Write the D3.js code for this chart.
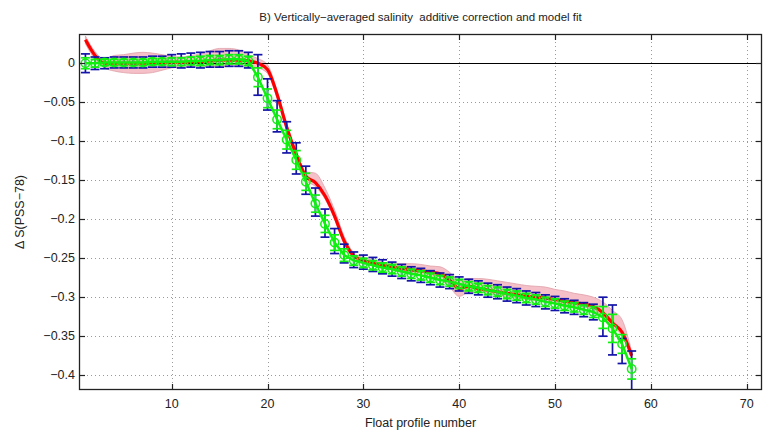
<!DOCTYPE html>
<html><head><meta charset="utf-8">
<script src="https://cdn.jsdelivr.net/npm/d3@7"></script>
<style>body{margin:0;background:#fff;} svg{display:block;} text{font-family:"Liberation Sans",Arial,sans-serif;}</style>
</head><body>
<svg id="c" width="779" height="434"></svg>
<script>
const profiles = d3.range(1, 59);
const dataValues = [0.000,0.000,0.001,0.001,0.001,0.001,0.001,0.002,0.002,0.002,
 0.002,0.003,0.003,0.004,0.004,0.005,0.005,0.003,-0.018,-0.045,
 -0.072,-0.098,-0.124,-0.152,-0.180,-0.206,-0.230,-0.246,-0.253,-0.256,
 -0.259,-0.262,-0.264,-0.267,-0.270,-0.272,-0.275,-0.278,-0.280,-0.283,
 -0.286,-0.288,-0.291,-0.293,-0.296,-0.298,-0.301,-0.303,-0.306,-0.308,
 -0.311,-0.313,-0.316,-0.319,-0.326,-0.340,-0.360,-0.392];
const blueValues = [0.000,0.000,0.000,0.001,0.001,0.001,0.001,0.002,0.002,0.003,
 0.003,0.004,0.004,0.005,0.005,0.006,0.006,0.004,-0.015,-0.040,
 -0.068,-0.095,-0.122,-0.150,-0.178,-0.205,-0.228,-0.244,-0.252,-0.255,
 -0.258,-0.261,-0.264,-0.267,-0.270,-0.272,-0.275,-0.278,-0.280,-0.283,
 -0.286,-0.288,-0.291,-0.293,-0.296,-0.298,-0.301,-0.303,-0.306,-0.308,
 -0.311,-0.313,-0.316,-0.319,-0.325,-0.342,-0.369,-0.394];
const blueErr = [0.012,0.008,0.007,0.007,0.007,0.007,0.007,0.007,0.007,0.008,
 0.009,0.009,0.010,0.010,0.010,0.010,0.010,0.010,0.026,0.020,
 0.020,0.020,0.020,0.018,0.018,0.018,0.016,0.012,0.010,0.009,
 0.009,0.009,0.009,0.009,0.009,0.009,0.009,0.009,0.009,0.009,
 0.009,0.009,0.009,0.009,0.009,0.009,0.009,0.009,0.009,0.009,
 0.009,0.009,0.009,0.010,0.025,0.032,0.016,0.025];
const dataErr = [0.007,0.005,0.004,0.004,0.004,0.004,0.004,0.004,0.004,0.005,
 0.005,0.005,0.006,0.006,0.006,0.006,0.006,0.006,0.012,0.012,
 0.012,0.012,0.012,0.011,0.011,0.011,0.010,0.008,0.006,0.006,
 0.006,0.006,0.006,0.006,0.006,0.006,0.006,0.006,0.006,0.006,
 0.006,0.006,0.006,0.006,0.006,0.006,0.006,0.006,0.006,0.006,
 0.006,0.006,0.006,0.007,0.014,0.018,0.012,0.013];
const fitValues = [0.030,0.010,0.000,0.000,0.000,0.000,0.000,0.000,0.001,0.001,
 0.001,0.002,0.002,0.003,0.004,0.004,0.004,0.003,0.000,-0.008,
 -0.040,-0.082,-0.117,-0.145,-0.153,-0.170,-0.196,-0.228,-0.247,-0.253,
 -0.256,-0.259,-0.261,-0.263,-0.265,-0.266,-0.268,-0.270,-0.278,-0.289,
 -0.286,-0.289,-0.291,-0.293,-0.295,-0.297,-0.299,-0.300,-0.301,-0.303,
 -0.305,-0.307,-0.309,-0.312,-0.320,-0.333,-0.345,-0.375];
const fitErrUp = [0.005,0.005,0.005,0.010,0.011,0.013,0.014,0.013,0.010,0.008,
 0.007,0.008,0.010,0.013,0.015,0.015,0.013,0.008,0.006,0.006,
 0.005,0.005,0.005,0.006,0.012,0.010,0.008,0.006,0.004,0.004,
 0.004,0.004,0.004,0.006,0.008,0.008,0.008,0.009,0.010,0.010,
 0.010,0.013,0.014,0.014,0.014,0.014,0.014,0.014,0.014,0.013,
 0.013,0.012,0.012,0.012,0.014,0.016,0.016,0.005];
const fitErrDown = [0.005,0.005,0.006,0.010,0.012,0.013,0.013,0.012,0.010,0.007,
 0.006,0.006,0.006,0.007,0.008,0.008,0.008,0.007,0.006,0.005,
 0.005,0.005,0.005,0.005,0.005,0.004,0.004,0.004,0.004,0.004,
 0.004,0.004,0.004,0.005,0.006,0.006,0.006,0.007,0.009,0.010,
 0.008,0.005,0.004,0.004,0.004,0.004,0.004,0.004,0.004,0.004,
 0.004,0.004,0.004,0.004,0.005,0.005,0.005,0.005];
const xTicks = [10,20,30,40,50,60,70];
const yTicks = [0,-0.05,-0.1,-0.15,-0.2,-0.25,-0.3,-0.35,-0.4];
const yTickLabels = ["0","−0.05","−0.1","−0.15","−0.2","−0.25","−0.3","−0.35","−0.4"];
const titleText = "B) Vertically−averaged salinity  additive correction and model fit";
const xLabelText = "Float profile number";
const yLabelText = "Δ S(PSS−78)";

const L = 79, R = 762, T = 34, B = 390;
const svg = d3.select("#c");
const x = d3.scaleLinear().domain([0.33, 71.6]).range([L, R]);
const y = d3.scaleLinear().domain([-0.419, 0.0375]).range([B, T]);

svg.append("defs").append("clipPath").attr("id","clip")
  .append("rect").attr("x",L).attr("y",T).attr("width",R-L).attr("height",B-T);

// grid
const grid = svg.append("g").attr("stroke","#9a9a9a").attr("stroke-width",1).attr("stroke-dasharray","1,3");
xTicks.forEach(t => grid.append("line").attr("x1",Math.round(x(t))+0.5).attr("x2",Math.round(x(t))+0.5).attr("y1",T).attr("y2",B));
yTicks.forEach(t => grid.append("line").attr("y1",Math.round(y(t))+0.5).attr("y2",Math.round(y(t))+0.5).attr("x1",L).attr("x2",R));

const plot = svg.append("g").attr("clip-path","url(#clip)");
const fitData = profiles.map((p,i)=>({p, v:fitValues[i], up:fitValues[i]+fitErrUp[i], lo:fitValues[i]-fitErrDown[i]}));
plot.append("path").datum(fitData)
  .attr("d", d3.area().x(d=>x(d.p)).y0(d=>y(d.lo)).y1(d=>y(d.up)).curve(d3.curveMonotoneX))
  .attr("fill","#f5c0c8").attr("stroke","#e0a0a8").attr("stroke-width",0.8);

// zero line
plot.append("line").attr("x1",L).attr("x2",R).attr("y1",Math.round(y(0))+0.5).attr("y2",Math.round(y(0))+0.5)
  .attr("stroke","#000").attr("stroke-width",1);

plot.append("path").datum(fitData)
  .attr("d", d3.line().x(d=>x(d.p)).y(d=>y(d.v)).curve(d3.curveMonotoneX))
  .attr("fill","none").attr("stroke","#ff0000").attr("stroke-width",3.2);

// blue error bars
const capW = 4.5;
const blue = plot.append("g").attr("stroke","#1414a8").attr("stroke-width",1.7).attr("fill","none");
profiles.forEach((p,i)=>{
  const cx = x(p), y1 = y(blueValues[i]+blueErr[i]), y2 = y(blueValues[i]-blueErr[i]);
  blue.append("line").attr("x1",cx).attr("x2",cx).attr("y1",y1).attr("y2",y2);
  blue.append("line").attr("x1",cx-capW).attr("x2",cx+capW).attr("y1",y1).attr("y2",y1);
  blue.append("line").attr("x1",cx-capW).attr("x2",cx+capW).attr("y1",y2).attr("y2",y2);
});

// green data
const green = plot.append("g").attr("stroke","#10f010").attr("stroke-width",1.7).attr("fill","none");
profiles.forEach((p,i)=>{
  const cx = x(p), y1 = y(dataValues[i]+dataErr[i]), y2 = y(dataValues[i]-dataErr[i]);
  green.append("line").attr("x1",cx).attr("x2",cx).attr("y1",y1).attr("y2",y2);
  green.append("line").attr("x1",cx-capW).attr("x2",cx+capW).attr("y1",y1).attr("y2",y1);
  green.append("line").attr("x1",cx-capW).attr("x2",cx+capW).attr("y1",y2).attr("y2",y2);
});
green.append("path").datum(profiles)
  .attr("d", d3.line().x(p=>x(p)).y((p,i)=>y(dataValues[i])))
  .attr("stroke-width",2.5);
green.selectAll("circle").data(profiles).join("circle")
  .attr("cx",p=>x(p)).attr("cy",(p,i)=>y(dataValues[i])).attr("r",4.2).attr("stroke-width",1.5);

// axes box
svg.append("rect").attr("x",L+0.5).attr("y",T+0.5).attr("width",R-L-1).attr("height",B-T-1)
  .attr("fill","none").attr("stroke","#222").attr("stroke-width",1.3);
const tk = svg.append("g").attr("stroke","#222").attr("stroke-width",1.2);
xTicks.forEach(t=>{
  const px = Math.round(x(t))+0.5;
  tk.append("line").attr("x1",px).attr("x2",px).attr("y1",B).attr("y2",B-6);
  tk.append("line").attr("x1",px).attr("x2",px).attr("y1",T).attr("y2",T+6);
});
yTicks.forEach(t=>{
  const py = Math.round(y(t))+0.5;
  tk.append("line").attr("x1",L).attr("x2",L+6).attr("y1",py).attr("y2",py);
  tk.append("line").attr("x1",R).attr("x2",R-6).attr("y1",py).attr("y2",py);
});

// labels
const lab = svg.append("g").attr("fill","#222").attr("font-size",12.5);
xTicks.forEach(t=>lab.append("text").attr("x",x(t)).attr("y",B+18).attr("text-anchor","middle").text(t));
yTicks.forEach((t,i)=>lab.append("text").attr("x",L-4).attr("y",y(t)+4).attr("text-anchor","end").text(yTickLabels[i]));
lab.append("text").attr("x",(L+R)/2).attr("y",427).attr("text-anchor","middle").text(xLabelText);
lab.append("text").attr("transform",`translate(24,${(T+B)/2}) rotate(-90)`).attr("text-anchor","middle").text(yLabelText);
lab.append("text").attr("x",(L+R)/2).attr("y",21).attr("text-anchor","middle").attr("font-size",11.5)
  .style("white-space","pre").text(titleText);
</script>
</body></html>
